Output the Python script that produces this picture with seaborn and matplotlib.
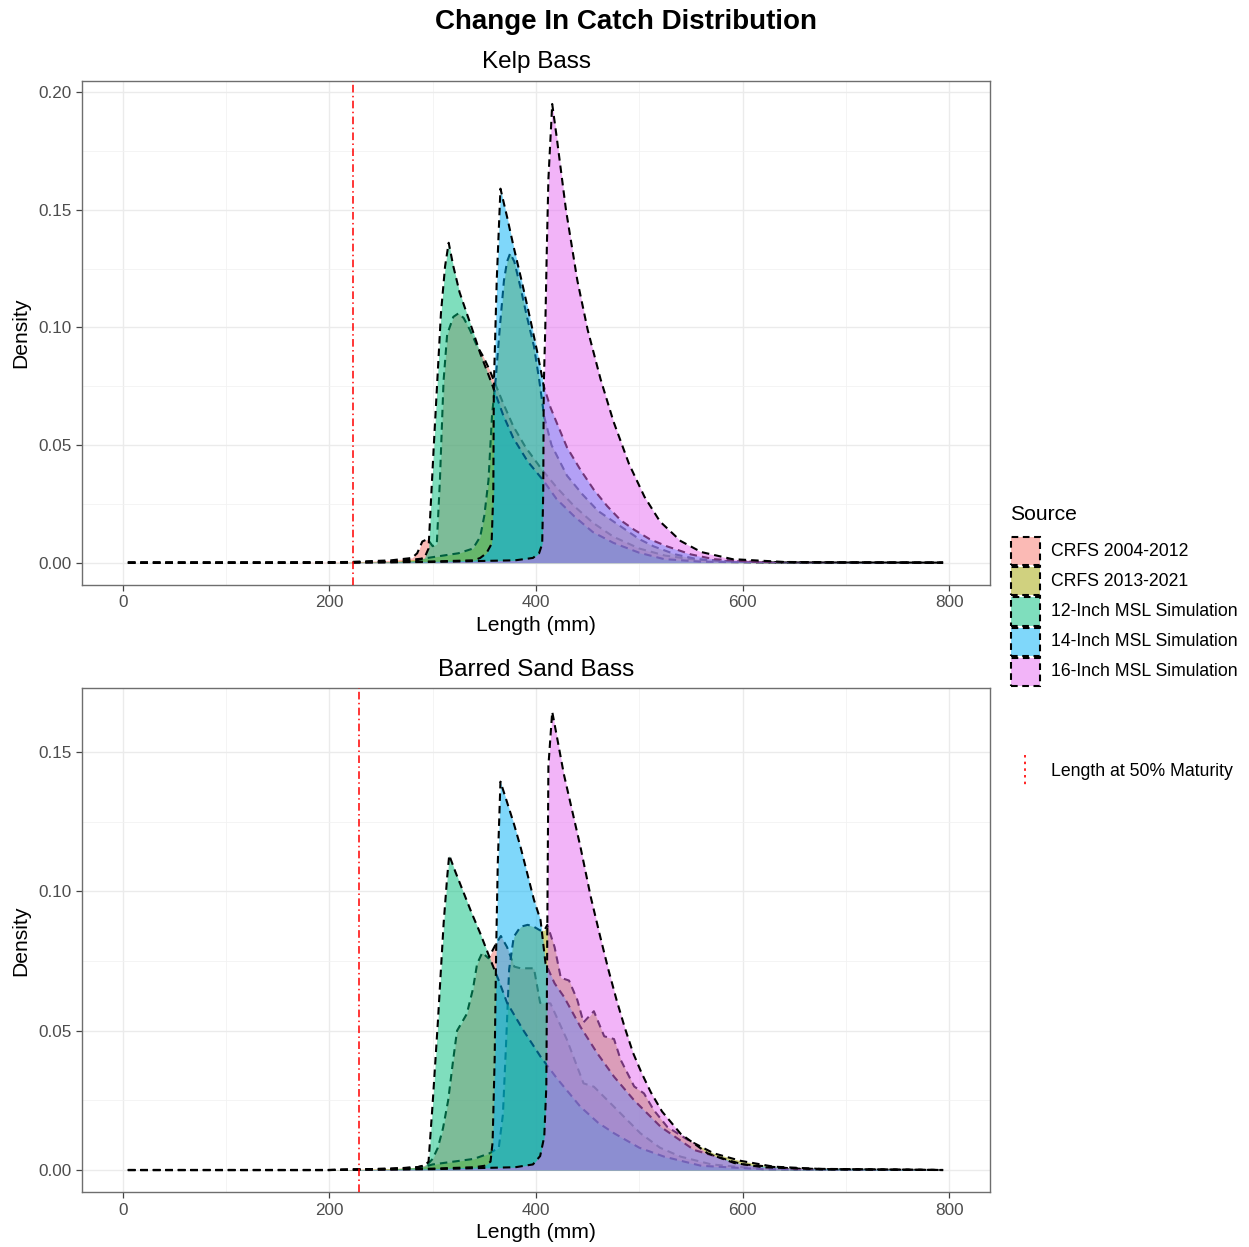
import matplotlib
matplotlib.use("Agg")
import matplotlib.pyplot as plt
import matplotlib.colors as mcolors
from matplotlib.patches import Rectangle
from matplotlib.lines import Line2D
from matplotlib.ticker import MultipleLocator, FormatStrFormatter
import seaborn as sns
import pandas as pd

# ---------------- data ----------------
sources = ["CRFS 2004-2012", "CRFS 2013-2021", "12-Inch MSL Simulation",
           "14-Inch MSL Simulation", "16-Inch MSL Simulation"]
palette = ["#F8766D", "#A3A500", "#00BF7D", "#00B0F6", "#E76BF3"]
species = ["Kelp Bass", "Barred Sand Bass"]
maturity_length = [223, 229]
maturity_label = "Length at 50% Maturity"

# Kelp Bass curves: (length mm, density)
kelp_crfs_0412 = [(5, 0), (150, 0), (220, 0.0003), (260, 0.001), (280, 0.002), (285, 0.004), (290, 0.009),
                  (295, 0.010), (300, 0.007), (304, 0.008), (307, 0.035), (310.5, 0.077), (314, 0.097),
                  (320, 0.1045), (325, 0.106), (330, 0.104), (336, 0.099), (343, 0.092), (349, 0.0876),
                  (355, 0.082), (359, 0.0777), (368, 0.068), (378, 0.058), (390, 0.049), (405, 0.040),
                  (420, 0.032), (437, 0.024), (455, 0.017), (475, 0.011), (500, 0.006), (525, 0.003),
                  (550, 0.0015), (580, 0.0006), (620, 0.0002), (680, 0), (794, 0)]
kelp_crfs_1321 = [(5, 0), (200, 0), (260, 0.0005), (285, 0.0015), (295, 0.002), (310, 0.003), (325, 0.004),
                  (339, 0.006), (346, 0.011), (350, 0.02), (354, 0.035), (357.5, 0.063), (361, 0.078),
                  (365, 0.100), (369, 0.120), (372, 0.128), (375, 0.1315), (379, 0.128), (385, 0.117),
                  (391, 0.105), (398, 0.092), (403, 0.078), (408, 0.062), (415, 0.050), (430, 0.037),
                  (445, 0.029), (460, 0.022), (482, 0.0154), (500, 0.010), (514, 0.0069), (535, 0.0035),
                  (556, 0.0015), (590, 0.0005), (650, 0.0001), (794, 0)]
kelp_msl12 = [(5, 0), (200, 0), (260, 0.0003), (285, 0.001), (292, 0.002), (296, 0.006), (301, 0.049),
              (308, 0.106), (312, 0.126), (315.5, 0.136), (320, 0.126), (326, 0.115), (333, 0.106),
              (340, 0.097), (346, 0.089), (353, 0.081), (359, 0.074), (368, 0.063), (378, 0.053),
              (392, 0.043), (407, 0.035), (420, 0.027), (437, 0.0197), (455, 0.013), (475, 0.0084),
              (500, 0.0042), (524, 0.0015), (560, 0.0004), (620, 0.0001), (794, 0)]
kelp_msl14 = [(5, 0), (200, 0), (260, 0.0002), (300, 0.0005), (340, 0.001), (346, 0.002), (352, 0.004),
              (357, 0.008), (358.7, 0.03), (359.2, 0.075), (362, 0.12), (365.6, 0.159), (372, 0.147),
              (378.5, 0.134), (386, 0.12), (394.7, 0.103), (401, 0.09), (407.6, 0.075), (414, 0.066),
              (420.5, 0.059), (430, 0.049), (443, 0.0395), (456, 0.031), (469, 0.024), (482, 0.018),
              (495, 0.014), (510, 0.010), (527, 0.0069), (550, 0.0035), (572, 0.0015), (610, 0.0004),
              (660, 0.0001), (794, 0)]
kelp_msl16 = [(5, 0), (200, 0), (300, 0.0003), (380, 0.001), (397, 0.002), (403, 0.004), (406, 0.008),
              (407, 0.03), (407.5, 0.075), (409, 0.10), (410.5, 0.134), (412, 0.163), (415.7, 0.195),
              (420, 0.181), (429, 0.150), (440, 0.120), (450, 0.099), (462.5, 0.078), (475, 0.060),
              (490, 0.042), (505, 0.028), (520, 0.0175), (540, 0.0092), (560, 0.0045), (590, 0.0015),
              (640, 0.0003), (700, 0.0001), (794, 0)]

# Barred Sand Bass curves
bsb_crfs_0412 = [(5, 0), (200, 0), (260, 0.0005), (285, 0.001), (295, 0.002), (300, 0.004), (305, 0.008),
                 (310, 0.015), (315, 0.025), (320, 0.04), (323.6, 0.050), (333, 0.056), (339, 0.065),
                 (343, 0.074), (348, 0.078), (354, 0.076), (361, 0.081), (366, 0.084), (372, 0.080),
                 (379, 0.073), (385, 0.0724), (398, 0.0724), (404, 0.060), (414, 0.0598), (430, 0.0467),
                 (446, 0.0311), (456, 0.0299), (475.5, 0.0227), (501, 0.0132), (520, 0.008), (540, 0.0048),
                 (570, 0.002), (600, 0.001), (650, 0.0002), (794, 0)]
bsb_crfs_1321 = [(5, 0), (200, 0), (260, 0.0005), (290, 0.001), (300, 0.002), (320, 0.003), (340, 0.004),
                 (355, 0.006), (364, 0.008), (368, 0.02), (371, 0.045), (374, 0.072), (378.5, 0.0837),
                 (385, 0.0873), (392, 0.088), (398, 0.0873), (404, 0.086), (408, 0.086), (411, 0.088),
                 (418, 0.080), (424, 0.069), (432, 0.068), (440, 0.061), (446, 0.053), (451, 0.055),
                 (456, 0.057), (466, 0.048), (475.5, 0.047), (482, 0.0395), (495, 0.030), (504.5, 0.0275),
                 (514, 0.0215), (527, 0.0155), (547, 0.0108), (572, 0.006), (598, 0.0033), (630, 0.0012),
                 (680, 0.0003), (794, 0)]
bsb_msl12 = [(5, 0), (200, 0), (260, 0.0003), (285, 0.001), (292, 0.0015), (296, 0.003), (300, 0.024),
             (305, 0.053), (310.6, 0.0885), (314, 0.105), (316, 0.113), (322, 0.107), (330, 0.0995),
             (338, 0.092), (346, 0.085), (356, 0.0754), (364, 0.068), (372, 0.060), (388, 0.050),
             (404.4, 0.0407), (420, 0.033), (443, 0.0227), (460, 0.017), (475.5, 0.0132), (500, 0.008),
             (524, 0.0048), (560, 0.0015), (620, 0.0003), (794, 0)]
bsb_msl14 = [(5, 0), (200, 0), (260, 0.0002), (300, 0.0005), (340, 0.001), (350, 0.0015), (356, 0.003),
             (358, 0.01), (360, 0.04), (361.5, 0.08), (363, 0.11), (365.6, 0.1394), (372, 0.132),
             (378.5, 0.1244), (385, 0.116), (391.5, 0.1065), (398, 0.097), (404.4, 0.0897), (409.2, 0.0742),
             (418, 0.067), (427, 0.0622), (443, 0.0514), (459.3, 0.0419), (475.5, 0.0335), (494.8, 0.0251),
             (520.7, 0.0155), (553, 0.0072), (600, 0.002), (650, 0.0005), (794, 0)]
bsb_msl16 = [(5, 0), (200, 0), (300, 0.0003), (380, 0.001), (397, 0.002), (404, 0.005), (408, 0.012),
             (410, 0.03), (411, 0.09), (412, 0.145), (415.7, 0.1645), (420, 0.156), (427, 0.142),
             (435, 0.129), (443, 0.116), (453, 0.098), (462, 0.084), (470, 0.072), (478, 0.061),
             (486, 0.051), (494, 0.042), (502, 0.035), (511, 0.028), (522, 0.021), (540, 0.013),
             (566, 0.006), (592, 0.0025), (620, 0.001), (680, 0.0002), (794, 0)]

panels = [
    [kelp_crfs_0412, kelp_crfs_1321, kelp_msl12, kelp_msl14, kelp_msl16],
    [bsb_crfs_0412, bsb_crfs_1321, bsb_msl12, bsb_msl14, bsb_msl16],
]
ylims = [(-0.0095, 0.2049), (-0.0080, 0.1729)]

# ---------------- style ----------------
sns.set_theme(style="white")
plt.rcParams["font.family"] = ["Liberation Sans", "DejaVu Sans"]

W, H = 1249, 1247
fig = plt.figure(figsize=(W / 100, H / 100), dpi=100)


def fx(px):
    return px / W


def fy(py):
    return 1 - py / H


axes_boxes = [(82, 80.7, 990, 585), (82, 688.3, 990, 1192.3)]
dash = (0, (3.6, 2.4))

for i, (name, curves) in enumerate(zip(species, panels)):
    l, t, r, b = axes_boxes[i]
    ax = fig.add_axes([fx(l), fy(b), fx(r) - fx(l), (b - t) / H])
    ax.set_facecolor("white")
    for j, (src, col, pts) in enumerate(zip(sources, palette, curves)):
        df = pd.DataFrame(pts, columns=["Length", "Density"])
        ax.fill_between(df["Length"], df["Density"], 0, color=col, alpha=0.5,
                        linewidth=0, zorder=2 + j)
        sns.lineplot(data=df, x="Length", y="Density", ax=ax, color="black",
                     linestyle=dash, linewidth=1.5, sort=False, estimator=None,
                     legend=False, zorder=2.5 + j)
    ax.axvline(maturity_length[i], color="#FF0000", linestyle=(0, (5, 2.2, 1, 2.2)),
               linewidth=1.1, zorder=10)

    ax.set_xlim(-39.4, 839.4)
    ax.set_ylim(*ylims[i])
    ax.xaxis.set_major_locator(MultipleLocator(200))
    ax.xaxis.set_minor_locator(MultipleLocator(100))
    ax.yaxis.set_major_locator(MultipleLocator(0.05))
    ax.yaxis.set_minor_locator(MultipleLocator(0.025))
    ax.yaxis.set_major_formatter(FormatStrFormatter("%.2f"))
    ax.grid(which="major", color="#EBEBEB", linewidth=1.0, zorder=0)
    ax.grid(which="minor", color="#F2F2F2", linewidth=0.6, zorder=0)
    ax.set_axisbelow(True)
    for s in ax.spines.values():
        s.set_color("#6E6E6E")
        s.set_linewidth(1.0)
    ax.tick_params(which="major", direction="out", length=4, width=0.9, color="#444444",
                   labelcolor="#4D4D4D", labelsize=12.3, pad=3.5, bottom=True, left=True)
    ax.tick_params(which="minor", length=0)
    ax.set_xlabel("Length (mm)", fontsize=15.2, color="black", labelpad=4)
    ax.set_ylabel("Density", fontsize=15.2, color="black", labelpad=6)
    ax.set_title(name, fontsize=17.5, color="black", pad=9)

fig.text(fx(626), fy(22), "Change In Catch Distribution", ha="center", va="center",
         fontsize=20, fontweight="bold", color="black")

# ---------------- legend ----------------
fig.text(fx(1010), fy(515), "Source", ha="left", va="center", fontsize=15.2, color="black")
box_top = 536.5
box_h = 30
for k, (src, col) in enumerate(zip(sources, palette)):
    y0 = box_top + k * box_h
    fig.add_artist(Rectangle((fx(1011), fy(y0 + box_h - 1)), (1040 - 1011) / W, (box_h - 2) / H,
                             transform=fig.transFigure, facecolor=mcolors.to_rgba(col, 0.5),
                             edgecolor="black", linestyle=(0, (3.2, 2.2)), linewidth=1.5))
    fig.text(fx(1051), fy(y0 + box_h / 2), src, ha="left", va="center", fontsize=12.7,
             color="black")

fig.add_artist(Line2D([fx(1025), fx(1025)], [fy(755), fy(788)], transform=fig.transFigure,
                      color="#FF0000", linestyle=(0, (1.5, 2.5)), linewidth=1.2))
fig.text(fx(1051), fy(771), maturity_label, ha="left", va="center", fontsize=12.7, color="black")

fig.savefig("out.png", dpi=100)
